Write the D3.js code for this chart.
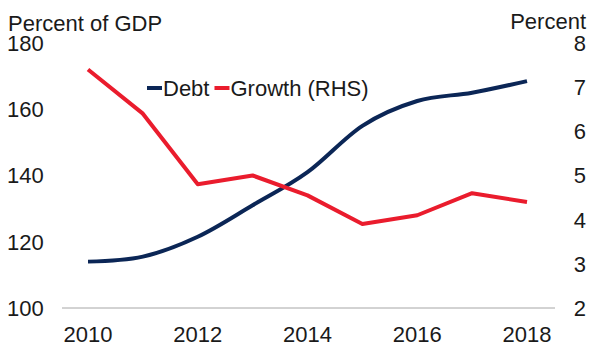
<!DOCTYPE html>
<html><head><meta charset="utf-8">
<script src="https://cdn.jsdelivr.net/npm/d3@7"></script>
<style>body{margin:0;background:#fff}svg{display:block}text{font-family:"Liberation Sans",Arial,sans-serif;fill:#1a1a1a}</style>
</head><body>
<script>
const years = [2010, 2011, 2012, 2013, 2014, 2015, 2016, 2017, 2018];
const debt = [114, 115.5, 121.5, 131, 141, 155, 162.5, 165, 168.5];
const growth = [7.4, 6.4, 4.8, 5.0, 4.55, 3.9, 4.1, 4.6, 4.4];
const leftTicks = [100, 120, 140, 160, 180];
const rightTicks = [2, 3, 4, 5, 6, 7, 8];
const xTicks = [2010, 2012, 2014, 2016, 2018];

const W = 600, H = 354;
const svg = d3.select("body").append("svg").attr("width", W).attr("height", H);
const x = d3.scaleLinear().domain([2010, 2018]).range([88, 527]);
const yL = d3.scaleLinear().domain([100, 180]).range([308, 43]);
const yR = d3.scaleLinear().domain([2, 8]).range([308, 43]);
const fs = 22;

svg.append("line").attr("x1", 62).attr("x2", 555).attr("y1", yL(100)).attr("y2", yL(100))
  .attr("stroke", "#a6a6a6").attr("stroke-width", 1);

svg.selectAll(".lt").data(leftTicks).join("text")
  .attr("x", 7).attr("y", d => yL(d)).attr("dy", "0.36em")
  .attr("font-size", fs).text(d => d);
svg.selectAll(".rt").data(rightTicks).join("text")
  .attr("x", 586).attr("y", d => yR(d)).attr("dy", "0.36em").attr("text-anchor", "end")
  .attr("font-size", fs).text(d => d);
svg.selectAll(".xt").data(xTicks).join("text")
  .attr("x", d => x(d)).attr("y", 342).attr("text-anchor", "middle")
  .attr("font-size", fs).text(d => d);

svg.append("text").attr("x", 8).attr("y", 31).attr("font-size", fs).text("Percent of GDP");
svg.append("text").attr("x", 586).attr("y", 29).attr("text-anchor", "end").attr("font-size", fs).text("Percent");

const navy = "#0b2656", red = "#ea1c2d";
const lineD = d3.line().x((d, i) => x(years[i])).y(d => yL(d)).curve(d3.curveCatmullRom.alpha(0));
const lineG = d3.line().x((d, i) => x(years[i])).y(d => yR(d));
svg.append("path").attr("d", lineD(debt)).attr("fill", "none").attr("stroke", navy).attr("stroke-width", 4);
svg.append("path").attr("d", lineG(growth)).attr("fill", "none").attr("stroke", red).attr("stroke-width", 4).attr("stroke-linejoin", "round");

// legend
const ly = 88;
let lx = 147;
const items = [["Debt", navy], ["Growth (RHS)", red]];
items.forEach(([name, col]) => {
  svg.append("line").attr("x1", lx).attr("x2", lx + 15).attr("y1", ly).attr("y2", ly)
    .attr("stroke", col).attr("stroke-width", 4);
  const t = svg.append("text").attr("x", lx + 16).attr("y", ly).attr("dy", "0.36em")
    .attr("font-size", fs).text(name);
  lx = lx + 16 + t.node().getComputedTextLength() + 5;
});
</script>
</body></html>
